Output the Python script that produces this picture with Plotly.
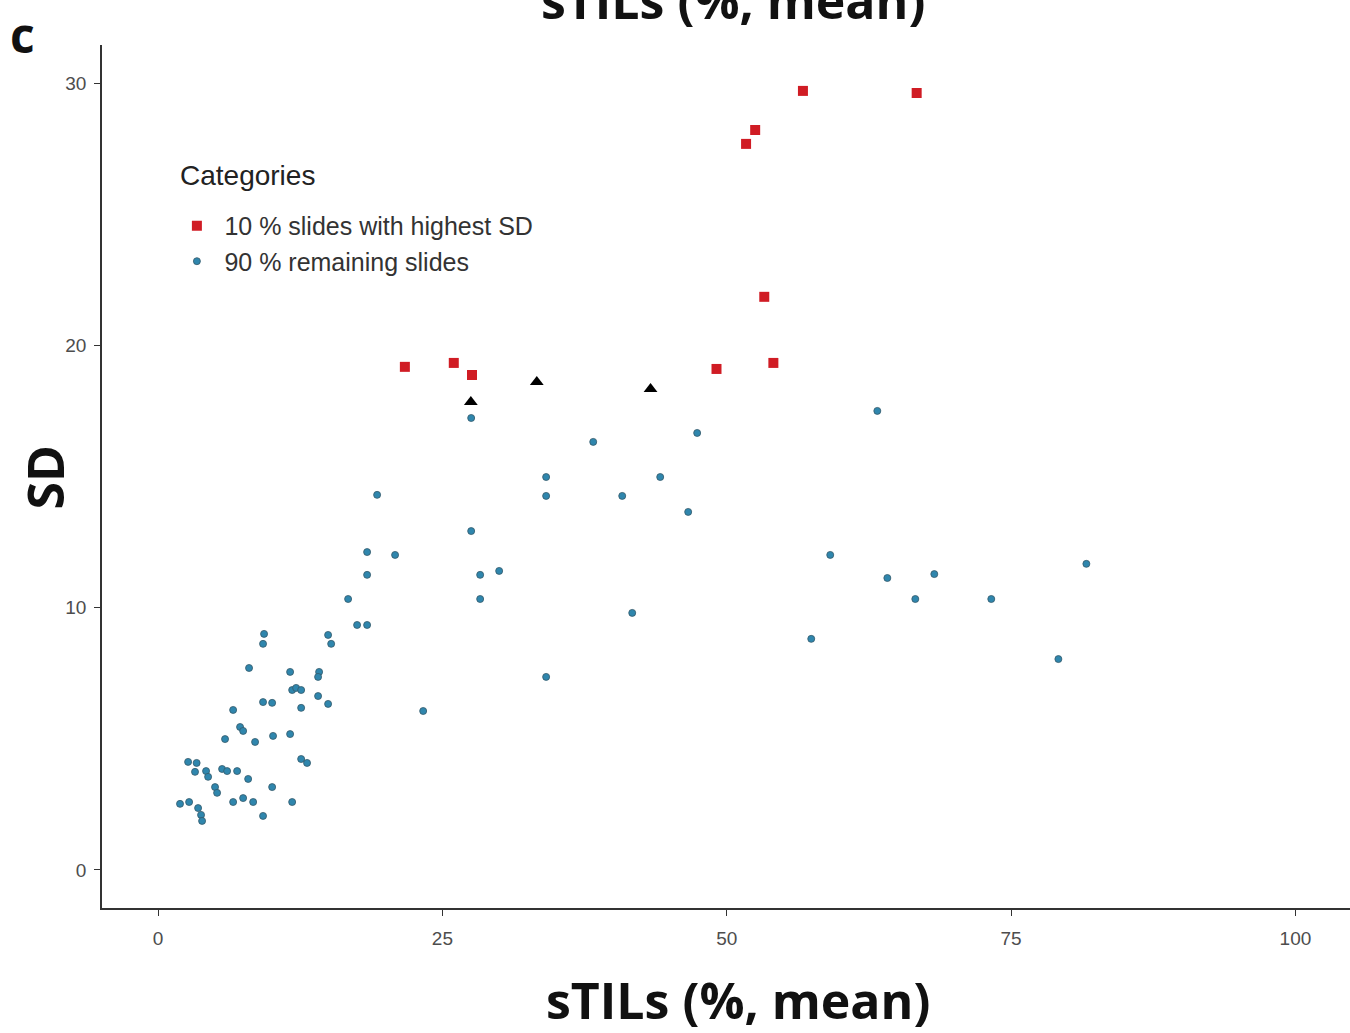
import plotly.graph_objects as go

# ---- data ----
red_x = [21.7, 26.0, 27.6, 49.1, 54.1, 53.3, 51.7, 52.5, 56.7, 66.7]
red_y = [19.18, 19.33, 18.87, 19.1, 19.33, 21.85, 27.68, 28.21, 29.7, 29.62]

tri_x = [27.5, 33.3, 43.3]
tri_y = [17.84, 18.6, 18.34]

blue_x = [1.93, 2.73, 3.52, 3.78, 3.87, 2.64, 3.39, 3.25, 4.22, 4.40,
          5.63, 6.07, 6.95, 7.92, 5.01, 5.19, 10.03, 6.60, 7.48, 8.36,
          9.23, 11.79, 12.58, 13.10, 5.89, 8.53, 10.11, 11.61, 7.21, 7.48,
          6.60, 12.58, 9.23, 10.03, 14.07, 14.95, 11.79, 12.14, 12.58, 8.00,
          11.61, 14.16, 14.07, 9.32, 9.23, 14.95, 15.22, 16.71, 17.50, 18.38,
          18.38, 18.38, 20.84, 19.26, 23.31, 27.53, 28.32, 29.99, 28.32, 27.53,
          34.12, 34.12, 34.12, 38.26, 40.81, 41.69, 44.15, 46.61, 47.40, 63.24,
          59.10, 64.12, 68.25, 66.58, 73.26, 81.62, 57.43, 79.16]
blue_y = [2.52, 2.59, 2.36, 2.10, 1.87, 4.12, 4.08, 3.74, 3.77, 3.55,
          3.85, 3.77, 3.77, 3.47, 3.16, 2.94, 3.16, 2.59, 2.74, 2.59,
          2.06, 2.59, 4.23, 4.08, 4.99, 4.88, 5.11, 5.18, 5.45, 5.30,
          6.10, 6.18, 6.40, 6.37, 6.63, 6.33, 6.86, 6.94, 6.86, 7.70,
          7.55, 7.55, 7.36, 9.00, 8.62, 8.96, 8.62, 10.33, 9.34, 9.34,
          11.25, 12.12, 12.01, 14.30, 6.06, 12.92, 11.25, 11.40, 10.33, 17.23,
          14.98, 14.26, 7.36, 16.32, 14.26, 9.80, 14.98, 13.65, 16.66, 17.50,
          12.01, 11.13, 11.28, 10.33, 10.33, 11.67, 8.81, 8.04]

x_ticks = [0, 25, 50, 75, 100]
y_ticks = [0, 10, 20, 30]
legend_title = "Categories"
red_name = "10 % slides with highest SD"
blue_name = "90 % remaining slides"
axis_title = "sTILs (%, mean)"
y_title = "SD"
panel_label = "c"

fig = go.Figure()
fig.add_trace(go.Scatter(
    x=red_x, y=red_y, mode="markers", name=red_name,
    marker=dict(symbol="square", size=10, color="#d01c24"),
))
fig.add_trace(go.Scatter(
    x=blue_x, y=blue_y, mode="markers", name=blue_name,
    marker=dict(symbol="circle", size=7, color="#2f86ad",
                line=dict(color="#35596a", width=0.8)),
))
fig.add_trace(go.Scatter(
    x=tri_x, y=tri_y, mode="markers", showlegend=False,
    marker=dict(symbol="triangle-up", size=12, color="#000000"),
))

tickfont = dict(family="Liberation Sans, Arial", size=19, color="#4d4d4d")
fig.update_xaxes(
    range=[-4.93, 104.8], tickvals=x_ticks, showline=True, linecolor="#333333",
    linewidth=1.5, ticks="outside", ticklen=6, tickcolor="#333333",
    showgrid=False, zeroline=False, tickfont=tickfont, ticklabelstandoff=6,
)
fig.update_yaxes(
    range=[-1.45, 31.45], tickvals=y_ticks, showline=True, linecolor="#333333",
    linewidth=1.5, ticks="outside", ticklen=6, tickcolor="#333333",
    showgrid=False, zeroline=False, tickfont=tickfont, ticklabelstandoff=4,
)

big = dict(family="Open Sans", size=50, color="#111111")
fig.update_layout(
    width=1350, height=1033,
    margin=dict(l=102, r=0, t=45, b=125),
    plot_bgcolor="white", paper_bgcolor="white",
    legend=dict(
        font=dict(family="Liberation Sans, Arial", size=25, color="#333333"),
        x=0.054, y=0.817, xanchor="left", yanchor="top",
        bgcolor="rgba(255,255,255,0)", tracegroupgap=0, itemwidth=45,
    ),
    annotations=[
        dict(text=legend_title, xref="paper", yref="paper",
             x=(178 - 102) / 1248, y=(908 - 176) / 863, xanchor="left", yanchor="middle",
             showarrow=False,
             font=dict(family="Liberation Sans, Arial", size=28, color="#222222")),
        dict(text="<b>" + axis_title + "</b>", xref="paper", yref="paper",
             x=0.5096, y=-0.1066, xanchor="center", yanchor="middle", showarrow=False,
             font=big),
        dict(text="<b>" + axis_title + "</b>", xref="paper", yref="paper",
             x=0.5056, y=1.0521, xanchor="center", yanchor="middle", showarrow=False,
             font=big),
        dict(text="<b>" + y_title + "</b>", xref="paper", yref="paper",
             x=-0.0457, y=0.5, xanchor="center", yanchor="middle", textangle=-90,
             showarrow=False, font=big),
        dict(text="<b>" + panel_label + "</b>", xref="paper", yref="paper",
             x=(22 - 102) / 1248, y=(908 - 34) / 863, xanchor="center", yanchor="middle",
             showarrow=False, font=dict(family="Open Sans", size=48, color="#111111")),
    ],
)

fig.write_html("out.html", config={"displayModeBar": False},
               post_script="document.body.style.margin='0px';")
